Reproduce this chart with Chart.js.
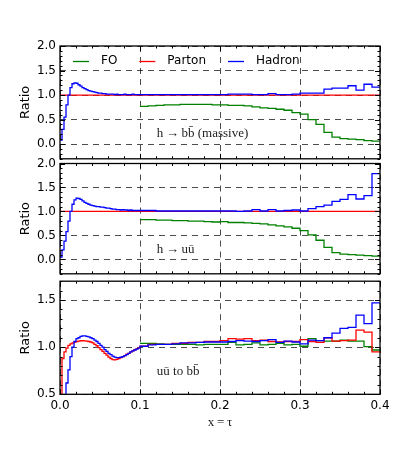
<!DOCTYPE html>
<html>
<head>
<meta charset="utf-8">
<script src="https://cdn.jsdelivr.net/npm/chart.js@4/dist/chart.umd.min.js"></script>
<style>
  html, body { margin: 0; padding: 0; background: #fff; }
  #figure { position: relative; width: 399px; height: 465px; }
  #figure canvas { position: absolute; left: 0; }
</style>
</head>
<body>
<div id="figure">
  <canvas id="panel_bb" width="399" height="170" style="top:0px"></canvas>
  <canvas id="panel_uu" width="399" height="135" style="top:150px"></canvas>
  <canvas id="panel_uubb" width="399" height="195" style="top:270px"></canvas>
</div>
<script>
// Ratio plots for three processes, stacked on a shared x = tau axis.
// Below x = 0.1 the histograms use fine bins, above it coarse ones.

// ----------------------------------------------------------------------------
// Data

var FINE_START = 0.0;
var FINE_WIDTH = 0.0025;
var COARSE_START = 0.1;
var COARSE_WIDTH = 0.01;

var xTicks = [0.0, 0.1, 0.2, 0.3, 0.4];
var yTicksWide = [0.0, 0.5, 1.0, 1.5, 2.0];
var yTicksNarrow = [0.5, 1.0, 1.5];

var seriesLabels = ['FO', 'Parton', 'Hadron'];
var seriesColors = ['#008000', '#ff0000', '#0000ff'];

// Parton / parton is 1 everywhere (one bin over the whole range).
var partonFlatEdges = [0.0, 0.4];
var partonFlat = [1.0];

// h -> b bbar (massive)
var hadronBBFine = [0.08, 0.30, 0.55, 0.80, 1.00, 1.15, 1.23, 1.25, 1.24, 1.21,
                    1.18, 1.15, 1.13, 1.11, 1.09, 1.08, 1.07, 1.06, 1.05, 1.04,
                    1.04, 1.03, 1.03, 1.02, 1.02, 1.02, 1.02, 1.01, 1.02, 1.01,
                    1.01, 1.01, 1.02, 1.01, 1.01, 1.01, 1.02, 1.01, 1.01, 1.01];
var hadronBBCoarse = [1.01, 1.01, 1.01, 1.01, 1.01, 1.01, 1.01, 1.01, 1.01, 1.01,
                      1.01, 1.02, 1.02, 1.02, 1.01, 1.01, 1.03, 1.01, 1.01, 1.02,
                      1.04, 1.04, 1.04, 1.12, 1.14, 1.14, 1.19, 1.10, 1.22, 1.16];
var foBB = [0.77, 0.78, 0.79, 0.80, 0.80, 0.81, 0.81, 0.81, 0.81, 0.80,
            0.80, 0.79, 0.79, 0.78, 0.76, 0.74, 0.73, 0.71, 0.69, 0.64,
            0.61, 0.50, 0.40, 0.24, 0.14, 0.11, 0.10, 0.09, 0.07, 0.06];

// h -> u ubar
var hadronUUFine = [0.05, 0.20, 0.38, 0.58, 0.80, 1.00, 1.15, 1.24, 1.28, 1.27,
                    1.25, 1.22, 1.19, 1.17, 1.15, 1.13, 1.12, 1.11, 1.10, 1.10,
                    1.09, 1.09, 1.08, 1.07, 1.07, 1.06, 1.05, 1.05, 1.04, 1.04,
                    1.03, 1.04, 1.03, 1.03, 1.02, 1.03, 1.02, 1.02, 1.02, 1.02];
var hadronUUCoarse = [1.02, 1.02, 1.01, 1.01, 1.01, 1.01, 1.01, 1.01, 1.01, 1.01,
                      1.01, 1.01, 1.00, 1.01, 1.04, 1.01, 1.04, 1.01, 1.02, 1.03,
                      1.01, 1.06, 1.10, 1.13, 1.21, 1.25, 1.35, 1.26, 1.33, 1.79];
var foUU = [0.83, 0.83, 0.82, 0.82, 0.81, 0.81, 0.80, 0.80, 0.79, 0.78,
            0.79, 0.77, 0.77, 0.76, 0.75, 0.74, 0.72, 0.70, 0.68, 0.65,
            0.60, 0.51, 0.40, 0.25, 0.14, 0.11, 0.10, 0.09, 0.08, 0.07];

// u ubar to b bbar
var partonUUBBFine = [0.30, 0.88, 0.95, 0.99, 1.02, 1.035, 1.045, 1.055, 1.06, 1.065,
                      1.068, 1.068, 1.066, 1.065, 1.06, 1.055, 1.045, 1.03, 1.015, 0.995,
                      0.975, 0.955, 0.935, 0.915, 0.895, 0.88, 0.868, 0.865, 0.87, 0.88,
                      0.89, 0.90, 0.91, 0.925, 0.935, 0.95, 0.96, 0.975, 0.985, 0.995];
var partonUUBBCoarse = [1.01, 1.03, 1.03, 1.03, 1.04, 1.04, 1.05, 1.05, 1.06, 1.06,
                        1.07, 1.09, 1.085, 1.09, 1.07, 1.075, 1.06, 1.055, 1.06, 1.06,
                        1.08, 1.06, 1.05, 1.10, 1.065, 1.07, 1.075, 1.18, 1.16, 0.95];
var hadronUUBBFine = [0.10, 0.30, 0.45, 0.62, 0.76, 0.90, 1.00, 1.06, 1.09, 1.10,
                      1.115, 1.12, 1.12, 1.115, 1.11, 1.10, 1.09, 1.075, 1.06, 1.04,
                      1.02, 1.00, 0.975, 0.955, 0.935, 0.92, 0.905, 0.895, 0.89, 0.89,
                      0.893, 0.90, 0.91, 0.92, 0.935, 0.95, 0.96, 0.97, 0.98, 0.99];
var hadronUUBBCoarse = [1.01, 1.025, 1.03, 1.03, 1.035, 1.045, 1.045, 1.05, 1.055, 1.055,
                        1.055, 1.06, 1.07, 1.065, 1.06, 1.07, 1.08, 1.05, 1.065, 1.055,
                        1.035, 1.075, 1.07, 1.10, 1.15, 1.20, 1.21, 1.34, 1.25, 1.47];
var foUUBB = [1.04, 1.04, 1.035, 1.03, 1.03, 1.03, 1.03, 1.025, 1.03, 1.03,
              1.03, 1.05, 1.025, 1.03, 1.045, 1.025, 1.03, 1.04, 1.025, 1.03,
              1.01, 1.09, 1.07, 1.065, 1.065, 1.075, 1.065, 1.065, 1.005, 0.97];

// ----------------------------------------------------------------------------
// Helpers

// Turns bin contents into step points: one point per left edge, plus the
// closing right edge of the last bin.
function histogram(start, width, values, close) {
  var points = values.map(function(v, i){
    return {x: start + i * width, y: v};
  });
  if (close) {
    points.push({x: start + values.length * width, y: values[values.length - 1]});
  }
  return points;
}

function fineAndCoarse(fine, coarse) {
  return histogram(FINE_START, FINE_WIDTH, fine, false)
    .concat(histogram(COARSE_START, COARSE_WIDTH, coarse, true));
}

function coarseOnly(values) {
  return histogram(COARSE_START, COARSE_WIDTH, values, true);
}

function flat() {
  var width = partonFlatEdges[1] - partonFlatEdges[0];
  return histogram(partonFlatEdges[0], width, partonFlat, true);
}

// Draws what matplotlib adds around an axes box: the frame, inward major and
// minor ticks on every side, an optional reference line, a text note and the
// legend.
var panelDecor = {
  id: 'panelDecor',

  beforeDatasetsDraw: function(chart, args, opts) {
    if (opts.refLine === undefined) return;
    var ctx = chart.ctx;
    var area = chart.chartArea;
    var y = Math.round(chart.scales.y.getPixelForValue(opts.refLine)) + 0.5;
    ctx.save();
    ctx.strokeStyle = '#000';
    ctx.lineWidth = 1;
    ctx.beginPath();
    ctx.moveTo(area.left, y);
    ctx.lineTo(area.right, y);
    ctx.stroke();
    ctx.restore();
  },

  afterDatasetsDraw: function(chart, args, opts) {
    var ctx = chart.ctx;
    var area = chart.chartArea;
    var xs = chart.scales.x;
    var ys = chart.scales.y;

    ctx.save();
    ctx.strokeStyle = '#000';
    ctx.lineWidth = 1;

    // Ticks along x (top and bottom edges).
    var xMinor = 0.02;
    for (var i = Math.ceil(xs.min / xMinor - 1e-6); i * xMinor <= xs.max + 1e-9; i++) {
      var v = i * xMinor;
      var major = Math.abs(v * 10 - Math.round(v * 10)) < 1e-6;
      var len = major ? 5 : 2.5;
      var px = Math.round(xs.getPixelForValue(v)) + 0.5;
      ctx.beginPath();
      ctx.moveTo(px, area.bottom); ctx.lineTo(px, area.bottom - len);
      ctx.moveTo(px, area.top); ctx.lineTo(px, area.top + len);
      ctx.stroke();
    }

    // Ticks along y (left and right edges).
    var yMinor = 0.1;
    for (var j = Math.ceil(ys.min / yMinor - 1e-6); j * yMinor <= ys.max + 1e-9; j++) {
      var w = j * yMinor;
      var ymajor = Math.abs(w * 2 - Math.round(w * 2)) < 1e-6;
      var ylen = ymajor ? 5 : 2.5;
      var py = Math.round(ys.getPixelForValue(w)) + 0.5;
      ctx.beginPath();
      ctx.moveTo(area.left, py); ctx.lineTo(area.left + ylen, py);
      ctx.moveTo(area.right, py); ctx.lineTo(area.right - ylen, py);
      ctx.stroke();
    }

    // Frame.
    ctx.lineWidth = 1.3;
    ctx.strokeRect(area.left, area.top, area.right - area.left, area.bottom - area.top);

    // Process label.
    if (opts.note) {
      ctx.fillStyle = '#222';
      ctx.font = '13px "Liberation Serif", "DejaVu Serif", serif';
      ctx.textAlign = 'left';
      ctx.textBaseline = 'middle';
      ctx.fillText(opts.note.text, xs.getPixelForValue(opts.note.x), ys.getPixelForValue(opts.note.y));
    }

    // Legend, laid out left to right inside the top of the box.
    if (opts.legend) {
      var lx = area.left + 13;
      var ly = area.top + 15;
      ctx.font = '12px "DejaVu Sans"';
      ctx.textAlign = 'left';
      ctx.textBaseline = 'middle';
      chart.data.datasets.forEach(function(ds){
        ctx.strokeStyle = ds.borderColor;
        ctx.lineWidth = 1.3;
        ctx.beginPath();
        ctx.moveTo(lx, ly + 0.5);
        ctx.lineTo(lx + 16, ly + 0.5);
        ctx.stroke();
        ctx.fillStyle = '#000';
        ctx.fillText(ds.label, lx + 28, ly);
        lx += 28 + ctx.measureText(ds.label).width + 22;
      });
    }

    ctx.restore();
  }
};

Chart.defaults.font.family = '"DejaVu Sans"';
Chart.defaults.color = '#000';

// ----------------------------------------------------------------------------

// Creates a new Panel (one axes box of the figure).
//
// canvasId - id of the canvas to draw into.
// spec     - {series: [fo, parton, hadron], yMin, yMax, yTicks, padTop,
//             padBottom, showX, note, legend, refLine}
var Panel = function(canvasId, spec){
  this.canvas = document.getElementById(canvasId);
  this.spec = spec;
  this.generate();
};

Panel.prototype.datasets = function() {
  return this.spec.series.map(function(points, i){
    return {
      label: seriesLabels[i],
      data: points,
      borderColor: seriesColors[i],
      borderWidth: 1.3,
      pointRadius: 0,
      stepped: true,
      tension: 0,
      fill: false,
      order: seriesLabels.length - i
    };
  });
};

Panel.prototype.generate = function() {
  var spec = this.spec;

  var grid = {
    color: 'rgba(0,0,0,0.7)',
    lineWidth: 1,
    drawTicks: false
  };

  this.chart = new Chart(this.canvas, {
    type: 'line',
    data: { datasets: this.datasets() },
    plugins: [panelDecor],
    options: {
      responsive: false,
      animation: false,
      events: [],
      layout: { padding: { top: spec.padTop, bottom: spec.padBottom, left: 0, right: 19 } },
      plugins: {
        legend: { display: false },
        tooltip: { enabled: false },
        panelDecor: { note: spec.note, legend: spec.legend, refLine: spec.refLine }
      },
      scales: {
        x: {
          type: 'linear',
          min: 0,
          max: 0.4,
          afterBuildTicks: function(scale){
            scale.ticks = xTicks.map(function(v){ return {value: v}; });
          },
          afterFit: function(scale){
            scale.height = spec.showX ? 40 : 0;
          },
          grid: grid,
          border: { display: false, dash: [6, 5] },
          ticks: {
            display: spec.showX,
            padding: 4,
            font: { size: 12 },
            maxRotation: 0,
            callback: function(v){ return v.toFixed(1); }
          },
          title: {
            display: spec.showX,
            text: 'x\u2009=\u2009\u03c4',
            font: { family: '"Liberation Serif", "DejaVu Serif", serif', size: 13 },
            color: '#222',
            padding: { top: 0, bottom: 3.5 }
          }
        },
        y: {
          type: 'linear',
          min: spec.yMin,
          max: spec.yMax,
          afterBuildTicks: function(scale){
            scale.ticks = spec.yTicks.map(function(v){ return {value: v}; });
          },
          afterFit: function(scale){
            scale.width = 60;
          },
          grid: grid,
          border: { display: false, dash: [6, 5] },
          ticks: {
            padding: 4,
            font: { size: 12 },
            callback: function(v){ return v.toFixed(1); }
          },
          title: {
            display: true,
            text: 'Ratio',
            font: { size: 13 },
            padding: { top: 18, bottom: 0 }
          }
        }
      }
    }
  });
};

window.panels = [
  new Panel('panel_bb', {
    series: [coarseOnly(foBB), flat(), fineAndCoarse(hadronBBFine, hadronBBCoarse)],
    yMin: -0.3, yMax: 2.0, yTicks: yTicksWide,
    padTop: 46, padBottom: 9.8, showX: false, legend: true,
    note: { text: 'h\u2009\u2192\u2009bb\u0304 (massive)', x: 0.121, y: 0.21 }
  }),
  new Panel('panel_uu', {
    series: [coarseOnly(foUU), flat(), fineAndCoarse(hadronUUFine, hadronUUCoarse)],
    yMin: -0.3, yMax: 2.0, yTicks: yTicksWide,
    padTop: 13.5, padBottom: 7.3, showX: false, refLine: 1.0,
    note: { text: 'h\u2009\u2192\u2009u\u016b', x: 0.121, y: 0.2 }
  }),
  new Panel('panel_uubb', {
    series: [coarseOnly(foUUBB),
             fineAndCoarse(partonUUBBFine, partonUUBBCoarse),
             fineAndCoarse(hadronUUBBFine, hadronUUBBCoarse)],
    yMin: 0.5, yMax: 1.7, yTicks: yTicksNarrow,
    padTop: 11.1, padBottom: 30.7, showX: true,
    note: { text: 'u\u016b to bb\u0304', x: 0.121, y: 0.74 }
  })
];
</script>
</body>
</html>
